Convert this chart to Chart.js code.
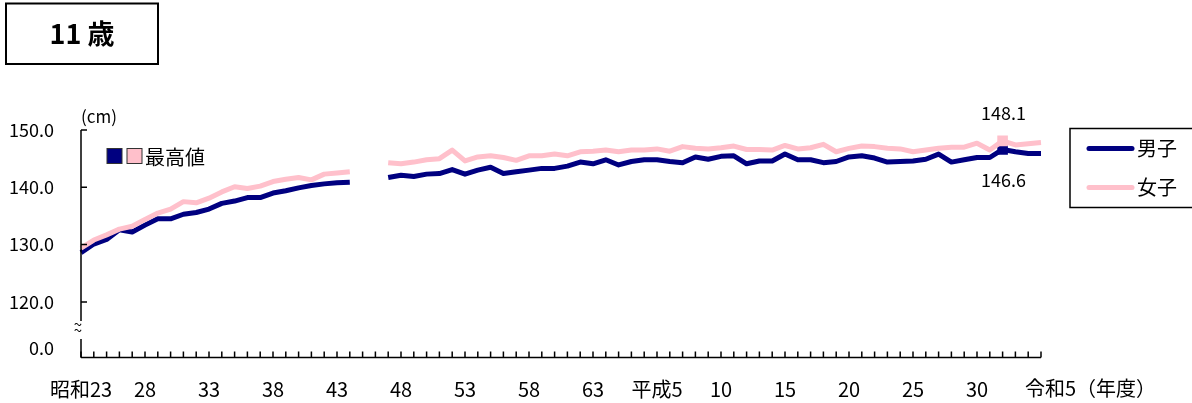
<!DOCTYPE html>
<html>
<head>
<meta charset="utf-8">
<script src="https://cdn.jsdelivr.net/npm/chart.js@4/dist/chart.umd.min.js"></script>
<style>
  body { margin: 0; background: #fff; overflow: hidden; }
  canvas { display: block; }
</style>
</head>
<body>
<canvas id="myChart" width="1192" height="403"></canvas>
<script>
// 11歳 身長の平均値の推移 (昭和23年度〜令和5年度)
var years = [];
for (var y = 1948; y <= 2023; y++) {
  years.push(String(y));
}

// 5年ごとの目盛ラベル
var tickLabels = ["昭和23", "28", "33", "38", "43", "48", "53", "58", "63",
  "平成5", "10", "15", "20", "25", "30", "令和5"];

var yTicks = [150, 140, 130, 120];

var danshi = [
  128.6, 130.1, 130.9, 132.6, 132.2, 133.4, 134.5, 134.5, 135.3, 135.6,
  136.2, 137.2, 137.6, 138.2, 138.2, 139.0, 139.4, 139.9, 140.3, 140.6,
  140.8, 140.9, null, null, 141.7, 142.1, 141.9, 142.3, 142.4, 143.1,
  142.3, 143.0, 143.5, 142.4, 142.7, 143.0, 143.3, 143.3, 143.7, 144.4,
  144.1, 144.8, 143.9, 144.5, 144.8, 144.8, 144.5, 144.3, 145.3, 144.9,
  145.4, 145.5, 144.1, 144.6, 144.6, 145.8, 144.8, 144.8, 144.3, 144.5,
  145.3, 145.5, 145.1, 144.4, 144.5, 144.6, 144.9, 145.8, 144.4, 144.8,
  145.2, 145.2, 146.6, 146.2, 145.9, 145.9
];

var joshi = [
  129.4, 130.8, 131.7, 132.7, 133.2, 134.4, 135.5, 136.2, 137.5, 137.3,
  138.1, 139.2, 140.1, 139.8, 140.2, 141.0, 141.4, 141.7, 141.3, 142.3,
  142.5, 142.7, null, null, 144.3, 144.1, 144.4, 144.8, 145.0, 146.5,
  144.6, 145.3, 145.5, 145.2, 144.7, 145.5, 145.5, 145.8, 145.5, 146.2,
  146.3, 146.5, 146.2, 146.5, 146.5, 146.7, 146.3, 147.1, 146.8, 146.7,
  146.9, 147.2, 146.6, 146.6, 146.5, 147.3, 146.7, 146.9, 147.5, 146.2,
  146.8, 147.2, 147.1, 146.8, 146.7, 146.2, 146.5, 146.8, 147.0, 147.0,
  147.7, 146.5, 148.1, 147.4, 147.6, 147.8
];

var NAVY = "#000080";
var PINK = "#ffc0cb";
var FONT = "'Noto Sans CJK JP', 'Noto Sans', sans-serif";

function maxIndex(arr) {
  var m = 0;
  for (var i = 0; i < arr.length; i++) {
    if (arr[i] != null && arr[i] > arr[m]) m = i;
  }
  return m;
}
var maxB = maxIndex(danshi);
var maxG = maxIndex(joshi);

var kazari = {
  id: "kazari",
  afterDraw: function (chart) {
    var c = chart.ctx;
    var xs = chart.scales.x;
    var ys = chart.scales.y;
    var area = chart.chartArea;
    var left = area.left, bottom = area.bottom;

    c.save();
    c.strokeStyle = "#000";
    c.fillStyle = "#000";

    // x軸
    c.lineWidth = 1.5;
    c.beginPath();
    c.moveTo(left, bottom);
    c.lineTo(area.right, bottom);
    for (var i = 0; i < years.length; i++) {
      var px = xs.getPixelForValue(i);
      c.moveTo(px, bottom);
      c.lineTo(px, bottom - 6);
    }
    c.stroke();

    // y軸 (途中を省略)
    c.beginPath();
    c.moveTo(left, ys.getPixelForValue(150));
    c.lineTo(left, 321);
    c.moveTo(left, 339);
    c.lineTo(left, bottom);
    yTicks.forEach(function (v) {
      var py = ys.getPixelForValue(v);
      c.moveTo(left, py);
      c.lineTo(left + 6, py);
    });
    c.stroke();

    c.font = "15px " + FONT;
    c.textAlign = "center";
    c.textBaseline = "middle";
    c.fillText("~", left - 3, 324);
    c.fillText("~", left - 3, 330);

    c.textAlign = "left";
    c.font = "17px " + FONT;
    c.fillText("(cm)", 81, 117);

    // 年度
    c.font = "20px " + FONT;
    c.fillText("令和5（年度）", xs.getPixelForValue(75) - 16, 388);

    // タイトル
    c.lineWidth = 2;
    c.strokeRect(6, 3.5, 152, 60.5);
    c.textAlign = "center";
    c.font = "bold 27px " + FONT;
    c.fillText("11 歳", 82, 34);

    // 最高値
    c.lineWidth = 1;
    c.fillStyle = NAVY;
    c.fillRect(107, 148.5, 15, 15);
    c.strokeStyle = "#333";
    c.strokeRect(107, 148.5, 15, 15);
    c.fillStyle = PINK;
    c.fillRect(127, 148.5, 15, 15);
    c.strokeRect(127, 148.5, 15, 15);
    c.fillStyle = "#000";
    c.textAlign = "left";
    c.font = "20px " + FONT;
    c.fillText("最高値", 145, 157);

    // 最高値ラベル
    c.textAlign = "center";
    c.font = "18px " + FONT;
    c.fillText(joshi[maxG].toFixed(1), xs.getPixelForValue(maxG) + 1,
      ys.getPixelForValue(joshi[maxG]) - 28);
    c.fillText(danshi[maxB].toFixed(1), xs.getPixelForValue(maxB) + 1,
      ys.getPixelForValue(danshi[maxB]) + 31);

    // 凡例
    c.strokeStyle = "#000";
    c.lineWidth = 1.5;
    c.strokeRect(1070, 128.5, 200, 79);
    c.lineCap = "round";
    c.lineWidth = 5;
    c.strokeStyle = NAVY;
    c.beginPath();
    c.moveTo(1089, 148.5);
    c.lineTo(1132, 148.5);
    c.stroke();
    c.strokeStyle = PINK;
    c.beginPath();
    c.moveTo(1089, 187.5);
    c.lineTo(1132, 187.5);
    c.stroke();
    c.textAlign = "left";
    c.font = "20px " + FONT;
    c.fillText("男子", 1137, 148);
    c.fillText("女子", 1137, 187);

    c.restore();
  }
};

var ctx = document.getElementById("myChart");
var myChart = new Chart(ctx, {
  type: "line",
  data: {
    labels: years,
    datasets: [
      {
        label: "女子",
        data: joshi,
        borderColor: PINK,
        backgroundColor: PINK,
        borderWidth: 5,
        borderJoinStyle: "round",
        pointStyle: "rect",
        pointRadius: function (c) { return c.dataIndex === maxG ? 7.5 : 0; },
        pointBorderWidth: 0,
        tension: 0,
        order: 0,
      },
      {
        label: "男子",
        data: danshi,
        borderColor: NAVY,
        backgroundColor: NAVY,
        borderWidth: 5,
        borderJoinStyle: "round",
        pointStyle: "rect",
        pointRadius: function (c) { return c.dataIndex === maxB ? 7.5 : 0; },
        pointBorderWidth: 0,
        tension: 0,
        order: 1,
      },
    ],
  },
  options: {
    responsive: false,
    animation: false,
    layout: { padding: { top: 130, right: 151, left: 0, bottom: 0 } },
    plugins: {
      legend: { display: false },
      tooltip: { enabled: false },
    },
    scales: {
      x: {
        offset: false,
        grid: { display: false, drawTicks: false },
        border: { display: false },
        afterFit: function (s) { s.height = 45.5; },
        ticks: {
          autoSkip: false,
          maxRotation: 0,
          padding: 20,
          color: "#000",
          font: { family: FONT, size: 20 },
          callback: function (v, i) {
            if (i === 75) return "";
            return i % 5 === 0 ? tickLabels[i / 5] : "";
          },
        },
      },
      y: {
        min: 110.3,
        max: 150,
        grid: { display: false, drawTicks: false },
        border: { display: false },
        afterFit: function (s) { s.width = 81; },
        afterBuildTicks: function (s) {
          s.ticks = yTicks.map(function (v) { return { value: v }; });
          s.ticks.push({ value: 111.95 });
        },
        ticks: {
          padding: 27,
          color: "#000",
          font: { family: FONT, size: 18 },
          callback: function (v) {
            return v < 115 ? "0.0" : v.toFixed(1);
          },
        },
      },
    },
  },
  plugins: [kazari],
});
</script>
</body>
</html>
